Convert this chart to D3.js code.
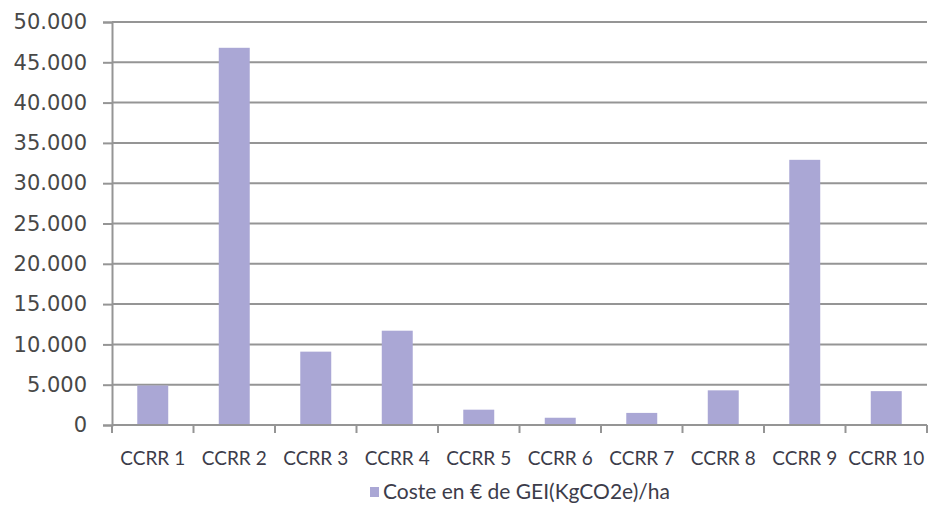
<!DOCTYPE html>
<html>
<head>
<meta charset="utf-8">
<script src="https://cdn.jsdelivr.net/npm/d3@7"></script>
<style>
  html, body { margin: 0; padding: 0; background: #fff; }
  svg { display: block; }
  .y-axis text { font-family: "DejaVu Sans", Verdana, sans-serif; font-size: 21px; fill: #484848; }
  .x-axis text { font-family: Lato, "Open Sans", sans-serif; font-size: 19px; fill: #3c3c4a; }
  .legend text { font-family: Lato, "Open Sans", sans-serif; font-size: 21px; fill: #3c3c4a; }
</style>
</head>
<body>
<div class="chart"></div>
<script>
var categories = ['CCRR 1', 'CCRR 2', 'CCRR 3', 'CCRR 4', 'CCRR 5', 'CCRR 6', 'CCRR 7', 'CCRR 8', 'CCRR 9', 'CCRR 10'];
var values = [4900, 46800, 9100, 11700, 1900, 900, 1500, 4300, 32900, 4200];
var yTicks = [0, 5000, 10000, 15000, 20000, 25000, 30000, 35000, 40000, 45000, 50000];
var seriesName = 'Coste en € de GEI(KgCO2e)/ha';

draw();

function draw() {
    var width = 928;
    var height = 508;
    var left = 112, right = 927, top = 22, bottom = 425;
    var barColor = '#aaa7d5';
    var gridColor = '#959595';

    var locale = d3.formatLocale({ decimal: ',', thousands: '.', grouping: [3], currency: ['', ' €'] });
    var fmt = locale.format(',d');

    var svg = d3.select('.chart')
        .append('svg')
        .attr('width', width)
        .attr('height', height);

    var x = d3.scaleBand()
        .domain(categories)
        .range([left, right])
        .paddingInner(0.62)
        .paddingOuter(0.31);

    var y = d3.scaleLinear()
        .domain([0, 50000])
        .range([bottom, top]);

    // gridlines
    svg.append('g')
        .selectAll('line')
        .data(yTicks.slice(1))
        .enter()
        .append('line')
        .attr('x1', left)
        .attr('x2', right)
        .attr('y1', function (d) { return y(d); })
        .attr('y2', function (d) { return y(d); })
        .attr('stroke', gridColor)
        .attr('stroke-width', 2);

    // bars
    svg.append('g')
        .selectAll('rect')
        .data(values)
        .enter()
        .append('rect')
        .attr('x', function (d, i) { return x(categories[i]); })
        .attr('y', function (d) { return y(d); })
        .attr('width', x.bandwidth())
        .attr('height', function (d) { return y(0) - y(d); })
        .attr('fill', barColor);

    // y axis
    var yAxis = svg.append('g')
        .attr('class', 'y-axis')
        .attr('transform', 'translate(' + left + ',0)')
        .call(d3.axisLeft(y).tickValues(yTicks).tickFormat(fmt).tickSize(9).tickPadding(16));
    yAxis.select('.domain').attr('stroke', gridColor).attr('stroke-width', 2);
    yAxis.selectAll('.tick line').attr('stroke', gridColor).attr('stroke-width', 2);

    // x axis, ticks on band edges
    var xAxis = svg.append('g')
        .attr('class', 'x-axis')
        .attr('transform', 'translate(0,' + bottom + ')');
    xAxis.append('line')
        .attr('x1', left).attr('x2', right)
        .attr('stroke', gridColor).attr('stroke-width', 2);
    var step = x.step();
    var edges = d3.range(categories.length + 1).map(function (i) {
        return x(categories[0]) - x.step() * x.paddingOuter() + i * step;
    });
    xAxis.selectAll('line.tk')
        .data(edges)
        .enter()
        .append('line')
        .attr('class', 'tk')
        .attr('x1', function (d) { return d; })
        .attr('x2', function (d) { return d; })
        .attr('y1', 0)
        .attr('y2', 8)
        .attr('stroke', gridColor)
        .attr('stroke-width', 2);
    xAxis.selectAll('text')
        .data(categories)
        .enter()
        .append('text')
        .attr('x', function (d) { return x(d) + x.bandwidth() / 2; })
        .attr('y', 40)
        .attr('text-anchor', 'middle')
        .text(function (d) { return d; });

    // legend
    var legend = svg.append('g').attr('class', 'legend');
    legend.append('rect')
        .attr('x', 370)
        .attr('y', 487)
        .attr('width', 9)
        .attr('height', 10)
        .attr('fill', barColor);
    legend.append('text')
        .attr('x', 383)
        .attr('y', 499)
        .text(seriesName);
}
</script>
</body>
</html>
